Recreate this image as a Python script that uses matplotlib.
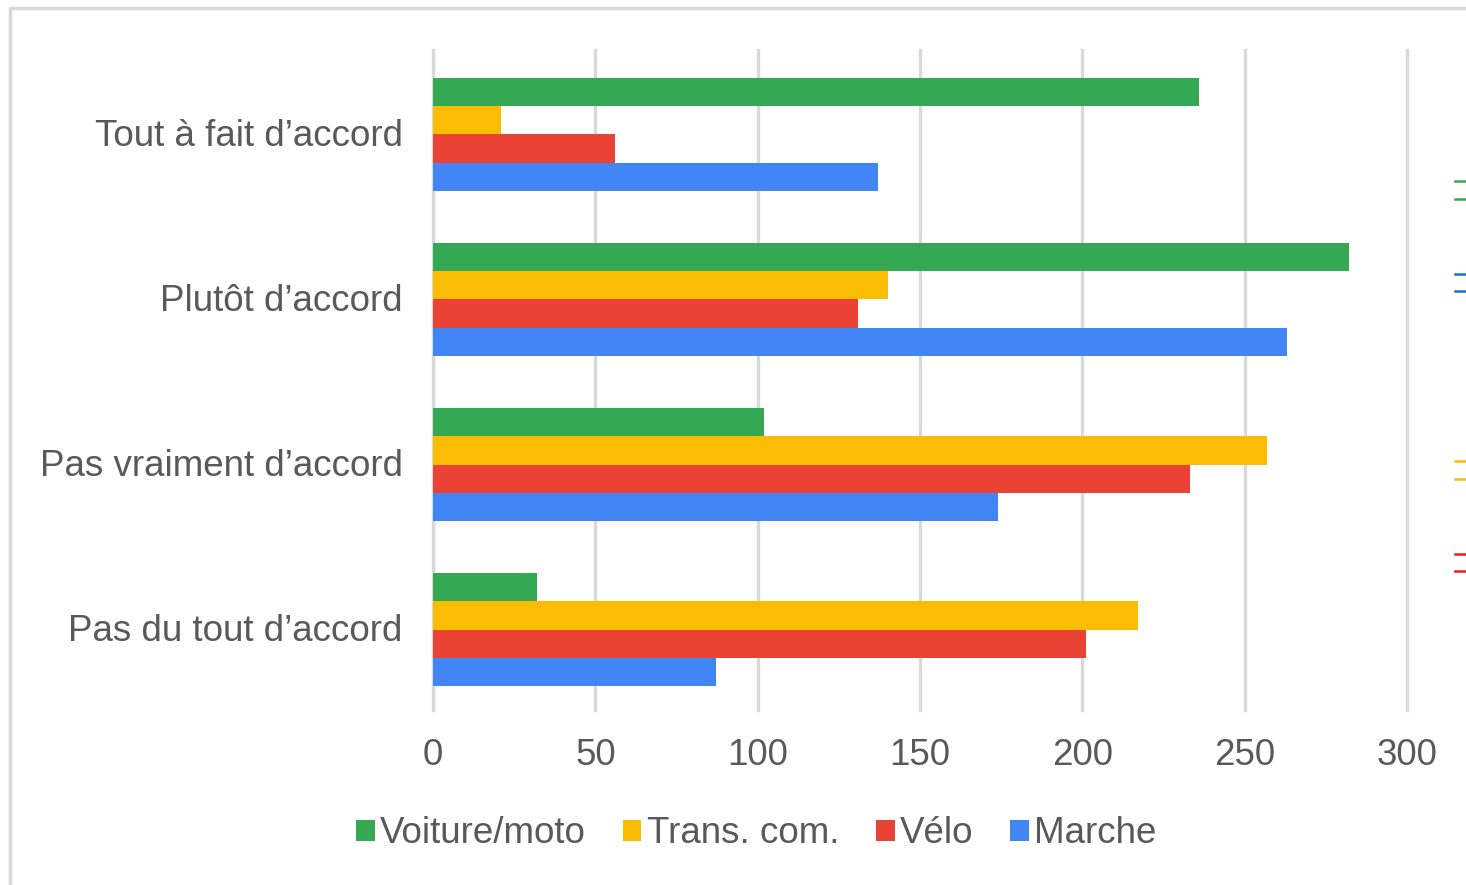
import numpy as np
import matplotlib.pyplot as plt
from matplotlib.lines import Line2D
from matplotlib.patches import Rectangle

plt.rcParams['font.family'] = ['Liberation Sans', 'DejaVu Sans']

categories = ['Tout à fait d’accord', 'Plutôt d’accord', 'Pas vraiment d’accord', 'Pas du tout d’accord']
series = ['Voiture/moto', 'Trans. com.', 'Vélo', 'Marche']
voiture = [236, 282, 102, 32]
trans = [21, 140, 257, 217]
velo = [56, 131, 233, 201]
marche = [137, 263, 174, 87]
colors = ['#34a853', '#fbbc04', '#ea4335', '#4285f4']
xticks = [0, 50, 100, 150, 200, 250, 300]

txt = '#595959'
grid = '#d9d9d9'

fig = plt.figure(figsize=(14.66, 8.85), dpi=100)
ax = fig.add_axes([0.2954, 0.1977, 0.6644, 0.7458])

y = np.arange(len(categories))
h = 0.17
values = [voiture, trans, velo, marche]
for i, (vals, col, name) in enumerate(zip(values, colors, series)):
    ax.barh(y + (i - 1.5) * h + 0.012, vals, height=h, color=col, label=name, zorder=3)

ax.set_xlim(0, 300)
ax.set_ylim(3.5, -0.5)
ax.set_xticks(xticks)
ax.set_yticks(y)
ax.set_yticklabels(categories)
ax.grid(axis='x', color=grid, linewidth=2.4, zorder=0)
for gl in ax.get_xgridlines():
    gl.set_clip_on(False)
ax.axvline(0, color=grid, linewidth=2.4, zorder=1)
for s in ax.spines.values():
    s.set_visible(False)
ax.tick_params(axis='both', length=0, labelsize=26.5, labelcolor=txt)
ax.tick_params(axis='x', pad=20)
ax.tick_params(axis='y', pad=22)

leg = fig.legend(loc='center', bbox_to_anchor=(0.516, 0.058), ncol=4, frameon=False,
                 fontsize=26.5, labelcolor=txt, handlelength=0.5, handleheight=0.5,
                 handletextpad=0.15, columnspacing=1.0)

# light frame around the chart
fig.add_artist(Rectangle((10 / 1466, -0.05), 1.2, 1 - 8 / 885 + 0.05, transform=fig.transFigure,
                         fill=False, edgecolor='#d9d9d9', linewidth=2.5))

# cut-off marks of a neighbouring chart at the right edge
for yy, col in [(181, '#34a853'), (199, '#34a853'), (274, '#1a73c8'), (291, '#1a73c8'),
                (461, '#fbbc04'), (479, '#fbbc04'), (554, '#ea1c1c'), (571, '#ea1c1c')]:
    fig.add_artist(Line2D([1455 / 1466, 1], [1 - yy / 885] * 2, transform=fig.transFigure,
                          color=col, linewidth=1.8))

fig.savefig('out.png', dpi=100)
